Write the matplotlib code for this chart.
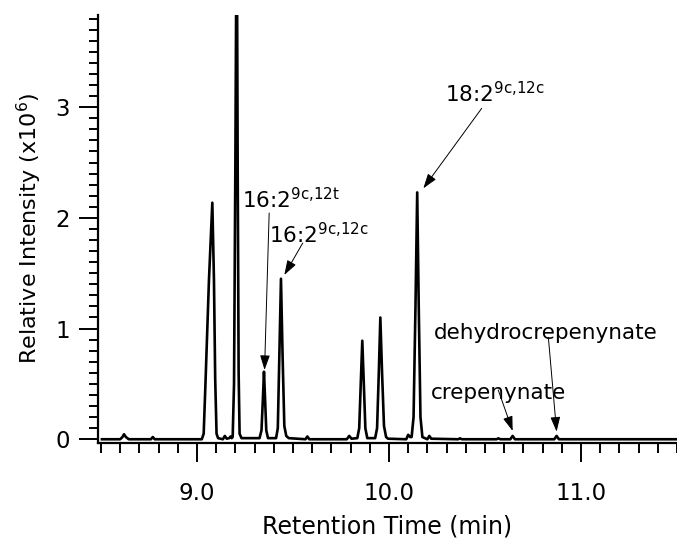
import matplotlib
matplotlib.use('Agg')
import matplotlib.pyplot as plt
from matplotlib.ticker import MultipleLocator, FormatStrFormatter

plt.rcParams['font.family'] = ['DejaVu Sans']
plt.rcParams['mathtext.fontset'] = 'dejavusans'

# chromatogram trace (min, x10^6 counts)
time = [8.505, 8.600, 8.612, 8.620, 8.630, 8.645, 8.760, 8.770, 8.780,
        9.025, 9.035, 9.045, 9.0625, 9.080, 9.0885, 9.095, 9.102, 9.110,
        9.135, 9.145, 9.155, 9.168, 9.175, 9.181,
        9.186, 9.193, 9.200, 9.207, 9.212, 9.217, 9.222, 9.232,
        9.326, 9.336, 9.343, 9.349, 9.355, 9.361, 9.370,
        9.412, 9.421, 9.429, 9.4375, 9.446, 9.455, 9.465, 9.478,
        9.565, 9.575, 9.585, 9.780, 9.793, 9.805,
        9.835, 9.845, 9.853, 9.861, 9.869, 9.877, 9.887,
        9.928, 9.938, 9.947, 9.955, 9.964, 9.974, 9.985, 9.995,
        10.090, 10.100, 10.110,
        10.118, 10.128, 10.138, 10.147, 10.155, 10.164, 10.174,
        10.200, 10.210, 10.220, 10.360, 10.370, 10.380, 10.560, 10.570, 10.580,
        10.632, 10.644, 10.656, 10.861, 10.873, 10.885, 11.500]
intensity = [0.0, 0.0, 0.02, 0.045, 0.02, 0.0, 0.0, 0.02, 0.0,
             0.0, 0.05, 0.54, 1.44, 2.137, 1.44, 0.54, 0.05, 0.01,
             0.0, 0.03, 0.005, 0.01, 0.025, 0.01,
             0.02, 0.5, 2.5, 5.0, 2.5, 0.6, 0.05, 0.01,
             0.01, 0.08, 0.35, 0.61, 0.35, 0.08, 0.01,
             0.01, 0.1, 0.75, 1.45, 0.75, 0.12, 0.03, 0.01,
             0.0, 0.025, 0.0, 0.0, 0.03, 0.005,
             0.01, 0.1, 0.5, 0.89, 0.5, 0.1, 0.01,
             0.01, 0.1, 0.6, 1.10, 0.6, 0.12, 0.02, 0.005,
             0.0, 0.04, 0.02,
             0.02, 0.2, 1.2, 2.23, 1.2, 0.2, 0.02,
             0.0, 0.03, 0.005, 0.0, 0.008, 0.0, 0.0, 0.008, 0.0,
             0.0, 0.03, 0.0, 0.0, 0.03, 0.0, 0.0]

labels = [r'16:2$^{\mathregular{9c{,}12t}}$', r'16:2$^{\mathregular{9c{,}12c}}$',
          r'18:2$^{\mathregular{9c{,}12c}}$', 'dehydrocrepenynate', 'crepenynate']
label_pos = [(9.233, 2.089), (9.375, 1.771), (10.292, 3.044), (10.236, 0.906), (10.217, 0.364)]
arrow_from = [(9.376, 2.044), (9.551, 1.773), (10.483, 2.99), (10.83, 0.921), (10.569, 0.445)]
arrow_to = [(9.352, 0.626), (9.455, 1.484), (10.179, 2.267), (10.873, 0.069), (10.644, 0.075)]

fig = plt.figure(figsize=(6.77, 5.39), dpi=100)
ax = fig.add_axes([0.1443, 0.1787, 0.8557, 0.7935])
ax.plot(time, intensity, color='black', lw=1.9)

for lab, (tx, ty) in zip(labels, label_pos):
    ax.text(tx, ty, lab, fontsize=15.5, ha='left', va='baseline')
for a, b in zip(arrow_from, arrow_to):
    ax.annotate('', xy=b, xytext=a,
                arrowprops=dict(arrowstyle='-|>,head_length=0.9,head_width=0.3',
                                mutation_scale=10, lw=0.7, color='black',
                                shrinkA=0, shrinkB=0))

ax.set_xlim(8.483, 11.5)
ax.set_ylim(-0.031, 3.833)
ax.spines['top'].set_visible(False)
ax.spines['right'].set_visible(False)
ax.spines['left'].set_linewidth(1.6)
ax.spines['bottom'].set_linewidth(1.6)

ax.xaxis.set_major_locator(MultipleLocator(1))
ax.xaxis.set_minor_locator(MultipleLocator(0.1))
ax.xaxis.set_major_formatter(FormatStrFormatter('%.1f'))
ax.yaxis.set_major_locator(MultipleLocator(1))
ax.yaxis.set_minor_locator(MultipleLocator(0.1))
ax.tick_params(axis='x', which='major', direction='out', length=14, width=1.4, pad=14, labelsize=16.5)
ax.tick_params(axis='x', which='minor', direction='out', length=7.5, width=1.4)
ax.tick_params(axis='y', which='major', direction='out', length=13.5, width=1.4, pad=6.5, labelsize=16.5)
ax.tick_params(axis='y', which='minor', direction='out', length=6.5, width=1.4)

ax.set_xlabel('Retention Time (min)', fontsize=17, labelpad=7)
ax.set_ylabel(r'Relative Intensity (x10$^{\mathregular{6}}$)', fontsize=16, labelpad=8)

fig.savefig('out.png', dpi=100)
